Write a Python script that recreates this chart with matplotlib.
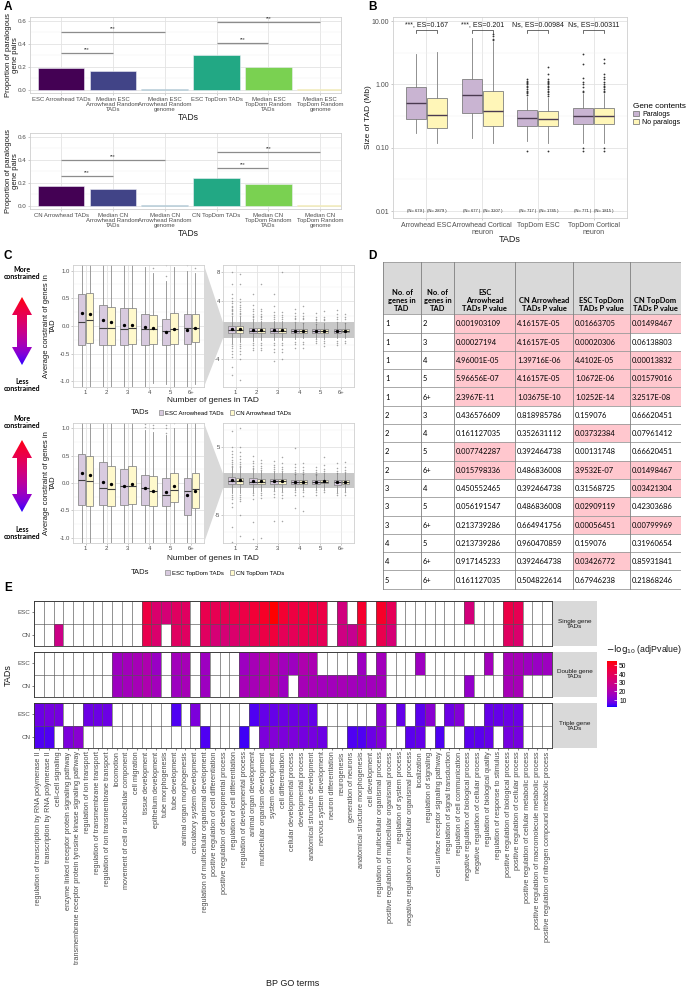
import numpy as np
import matplotlib
matplotlib.use('Agg')
import matplotlib.pyplot as plt
from matplotlib.patches import Polygon, Rectangle, Patch
from matplotlib.colors import ListedColormap, Normalize
from matplotlib.ticker import FixedLocator, NullFormatter
from matplotlib.cm import ScalarMappable

plt.rcParams['font.family'] = ['Liberation Sans', 'DejaVu Sans']
plt.rcParams['axes.unicode_minus'] = False

# ======================= DATA =======================
# Panel A
A_top_labels = ['ESC Arrowhead TADs', 'Median ESC\nArrowhead Random\nTADs', 'Median ESC\nArrowhead Random\ngenome',
                'ESC TopDom TADs', 'Median ESC\nTopDom Random\nTADs', 'Median ESC\nTopDom Random\ngenome']
A_top_values = [0.185, 0.160, 0.006, 0.305, 0.195, 0.005]
A_top_sig = [(0, 1, 0.32), (0, 2, 0.50), (3, 4, 0.41), (3, 5, 0.59)]
A_bot_labels = ['CN Arrowhead TADs', 'Median CN\nArrowhead Random\nTADs', 'Median CN\nArrowhead Random\ngenome',
                'CN TopDom TADs', 'Median CN\nTopDom Random\nTADs', 'Median CN\nTopDom Random\ngenome']
A_bot_values = [0.172, 0.147, 0.008, 0.245, 0.188, 0.005]
A_bot_sig = [(0, 1, 0.26), (0, 2, 0.40), (3, 4, 0.33), (3, 5, 0.47)]

# Panel B (lo, q1, med, q3, hi) in Mb
B_groups = ['Arrowhead ESC', 'Arrowhead Cortical\nneuron', 'TopDom ESC', 'TopDom Cortical\nneuron']
B_par_box = [(0.17, 0.285, 0.505, 0.90, 3.0), (0.145, 0.36, 0.68, 1.22, 5.5),
             (0.13, 0.22, 0.295, 0.39, 0.64), (0.12, 0.235, 0.315, 0.425, 0.70)]
B_nopar_box = [(0.12, 0.205, 0.33, 0.62, 3.3), (0.12, 0.22, 0.38, 0.78, 4.6),
               (0.12, 0.22, 0.285, 0.38, 0.62), (0.12, 0.24, 0.315, 0.42, 0.70)]
B_par_fliers = [[], [],
                [0.09, 0.68, 0.72, 0.76, 0.80, 0.85, 0.90, 0.95, 1.0, 1.05, 1.1, 1.15, 1.2],
                [0.09, 0.10, 0.75, 0.80, 0.90, 1.0, 1.1, 1.25, 2.1, 3.0]]
B_nopar_fliers = [[], [5.0, 5.3, 5.8, 6.2],
                  [0.09, 0.66, 0.70, 0.75, 0.80, 0.85, 0.90, 0.95, 1.0, 1.05, 1.1, 1.15, 1.2, 1.45, 1.9],
                  [0.09, 0.10, 0.75, 0.80, 0.85, 0.90, 0.95, 1.0, 1.1, 1.2, 1.3, 1.45, 2.2, 2.5]]
B_es_labels = ['***, ES=0.167', '***, ES=0.201', 'Ns, ES=0.00984', 'Ns, ES=0.00311']
B_n_par = ['(N= 679 )', '(N= 677 )', '(N= 717 )', '(N= 771 )']
B_n_nopar = ['(N= 2879 )', '(N= 3207 )', '(N= 1745 )', '(N= 1815 )']

# Panel C (lo, q1, med, q3, hi)
C_groups = ['1', '2', '3', '4', '5', '6+']
C_arrow_esc_box = [(-1.7, -0.34, 0.08, 0.58, 1.9), (-1.4, -0.35, -0.03, 0.38, 1.45), (-1.35, -0.35, -0.05, 0.32, 1.3),
                   (-1.17, -0.34, -0.06, 0.22, 1.06), (-1.04, -0.34, -0.09, 0.13, 0.82), (-1.1, -0.32, -0.03, 0.21, 1.0)]
C_arrow_cn_box = [(-1.6, -0.30, 0.10, 0.60, 1.9), (-1.35, -0.34, -0.04, 0.34, 1.35), (-1.27, -0.32, -0.04, 0.32, 1.27),
                  (-1.02, -0.32, -0.06, 0.19, 0.95), (-1.15, -0.32, -0.05, 0.24, 1.07), (-1.04, -0.29, -0.04, 0.21, 0.95)]
C_arrow_esc_mean = [0.23, 0.10, 0.02, -0.02, -0.11, -0.07]
C_arrow_cn_mean = [0.22, 0.07, 0.01, -0.04, -0.05, -0.04]
C_arrow_esc_fl = [[2.0, 2.2, 2.4, 2.6, 2.8, 3.0, 3.2, 3.4, 3.7, 4.0, 4.4, 5.0, 6.4, 8.0, -1.9, -2.1, -2.4, -2.8, -3.2, -3.6, -5.0, -6.2],
                  [1.6, 1.8, 2.0, 2.3, 2.6, 3.0, 3.5, 5.0, -1.7, -2.0, -2.4, -2.7],
                  [1.6, 1.8, 2.1, 2.5, 3.4, 5.0, -1.7, -2.0, -2.5, -3.0, -4.2],
                  [1.15, 1.5, 1.7, 2.0, 2.4, 3.0, -1.6, -1.9, -2.4],
                  [0.9, 1.1, 1.4, 1.6, 1.9, 2.4, -1.2, -1.5, -1.8],
                  [1.1, 1.5, 1.8, 2.3, 2.8, -1.5, -1.8, -2.0]]
C_arrow_cn_fl = [[2.0, 2.2, 2.4, 2.6, 2.9, 3.2, 3.5, 3.9, 4.3, 6.4, 7.8, -1.9, -2.1, -2.4, -2.8, -3.3, -4.0, -6.8],
                 [1.6, 1.8, 2.0, 2.3, 2.6, 3.0, 6.4, -1.7, -2.0, -2.4, -2.7],
                 [1.6, 1.8, 2.1, 2.5, 8.1, -1.7, -2.0, -2.5, -3.0, -4.0],
                 [1.05, 1.5, 1.7, 2.0, 2.4, 3.3, -1.6, -1.9, -2.4],
                 [1.4, 1.6, 1.9, 2.6, -1.5, -1.8, -2.1],
                 [1.05, 1.5, 1.8, 2.2, -1.5, -1.8]]
C_topdom_esc_box = [(-1.8, -0.40, 0.05, 0.53, 1.9), (-1.55, -0.40, -0.09, 0.38, 1.55), (-1.38, -0.40, -0.06, 0.26, 1.25),
                    (-1.2, -0.40, -0.09, 0.15, 0.97), (-1.2, -0.42, -0.22, 0.10, 0.88), (-1.6, -0.58, -0.15, 0.10, 1.1)]
C_topdom_cn_box = [(-1.8, -0.42, 0.03, 0.50, 1.88), (-1.5, -0.42, -0.11, 0.31, 1.4), (-1.4, -0.38, -0.05, 0.32, 1.35),
                   (-1.2, -0.42, -0.14, 0.12, 0.93), (-1.15, -0.35, -0.13, 0.19, 1.0), (-1.4, -0.46, -0.11, 0.19, 1.15)]
C_topdom_esc_mean = [0.18, 0.02, -0.06, -0.10, -0.17, -0.22]
C_topdom_cn_mean = [0.15, -0.01, -0.02, -0.14, -0.06, -0.15]
C_topdom_esc_fl = [[2.0, 2.2, 2.5, 2.8, 3.1, 3.5, 3.9, 4.4, 5.0, 7.4, -2.0, -2.3, -2.7, -3.2, -3.8, -6.7, -9.0],
                   [1.7, 1.9, 2.2, 2.6, 3.0, 3.6, -1.7, -2.0, -2.6, -6.0, -8.5],
                   [1.4, 1.7, 2.0, 2.4, 2.9, -1.5, -1.9, -2.4, -5.8],
                   [1.02, 1.08, 1.3, 1.6, 2.0, 2.5, 4.8, -1.3, -1.6, -2.0, -3.9],
                   [0.92, 1.0, 1.06, 1.3, 1.6, 2.0, -1.3, -1.6, -2.0],
                   [1.2, 1.5, 1.9, 2.6, -1.8, -2.1]]
C_topdom_cn_fl = [[2.0, 2.2, 2.5, 2.8, 3.2, 3.7, 4.3, 5.0, 7.7, -2.0, -2.3, -2.7, -3.0, -5.0, -8.0],
                  [1.6, 1.9, 2.2, 2.6, 3.1, -1.7, -2.0, -2.5, -8.3],
                  [1.5, 1.8, 2.1, 2.6, 3.5, -1.6, -2.0, -2.5, -5.8],
                  [1.0, 1.06, 1.3, 1.6, 2.0, 2.6, -1.3, -1.6, -2.2, -4.4],
                  [1.1, 1.4, 1.8, 2.4, 3.5, -1.3, -1.6],
                  [1.3, 1.6, 2.0, 2.8, -1.6, -2.0]]

# Panel D
D_header = ['No. of\ngenes in\nTAD', 'No. of\ngenes in\nTAD', 'ESC\nArrowhead\nTADs P value',
            'CN Arrowhead\nTADs P value', 'ESC TopDom\nTADs P value', 'CN TopDom\nTADs P value']
D_col1 = ['1', '1', '1', '1', '1', '2', '2', '2', '2', '3', '3', '3', '4', '4', '5']
D_col2 = ['2', '3', '4', '5', '6+', '3', '4', '5', '6+', '4', '5', '6+', '5', '6+', '6+']
D_esc_arrow = ['0.001903109', '0.00027194', '4.96001E-05', '5.96656E-07', '2.3967E-11', '0.436576609', '0.161127035',
               '0.007742287', '0.015798336', '0.450552465', '0.056191547', '0.213739286', '0.213739286', '0.917145233', '0.161127035']
D_cn_arrow = ['4.16157E-05', '4.16157E-05', '1.39716E-06', '4.16157E-05', '1.03675E-10', '0.818985786', '0.352631112',
              '0.392464738', '0.486836008', '0.392464738', '0.486836008', '0.664941756', '0.960470859', '0.392464738', '0.504822614']
D_esc_topdom = ['0.01663705', '0.00020306', '4.4102E-05', '1.0672E-06', '1.0252E-14', '0.159076', '0.03732384',
                '0.00131748', '3.9532E-07', '0.31568725', '0.02909119', '0.00056451', '0.159076', '0.03426772', '0.67946238']
D_cn_topdom = ['0.01498467', '0.06138803', '0.00013832', '0.01579016', '3.2517E-08', '0.66620451', '0.07961412',
               '0.66620451', '0.01498467', '0.03421304', '0.42303686', '0.00799969', '0.31960654', '0.85931841', '0.21868246']
D_highlight = ['1111', '1110', '1111', '1111', '1111', '0000', '0010', '1000', '1011', '0001', '0010', '0011', '0000', '0010', '0000']

# Panel E
E_terms = ['regulation of transcription by RNA polymerase II', 'transcription by RNA polymerase II', 'cell-cell signaling',
           'enzyme linked receptor protein signaling pathway', 'transmembrane receptor protein tyrosine kinase signaling pathway',
           'regulation of ion transport', 'regulation of transmembrane transport', 'regulation of ion transmembrane transport',
           'locomotion', 'movement of cell or subcellular component', 'cell migration', 'tissue development',
           'epithelium development', 'tube morphogenesis', 'tube development', 'animal organ morphogenesis',
           'circulatory system development', 'regulation of multicellular organismal development',
           'positive regulation of cell differentiation', 'positive regulation of developmental process',
           'regulation of cell differentiation', 'regulation of developmental process', 'animal organ development',
           'multicellular organism development', 'system development', 'cell differentiation',
           'cellular developmental process', 'developmental process', 'anatomical structure development',
           'nervous system development', 'neuron differentiation', 'neurogenesis', 'generation of neurons',
           'anatomical structure morphogenesis', 'cell development', 'regulation of multicellular organismal process',
           'positive regulation of multicellular organismal process', 'regulation of system process',
           'negative regulation of multicellular organismal process', 'localization', 'regulation of signaling',
           'cell surface receptor signaling pathway', 'regulation of signal transduction', 'regulation of cell communication',
           'negative regulation of biological process', 'negative regulation of cellular process',
           'regulation of biological quality', 'regulation of response to stimulus', 'positive regulation of biological process',
           'positive regulation of cellular process', 'positive regulation of cellular metabolic process',
           'positive regulation of macromolecule metabolic process', 'positive regulation of nitrogen compound metabolic process']
E_facets = ['Single gene\nTADs', 'Double gene\nTADs', 'Triple gene\nTADs']
# column number (1-based) -> -log10(adjPvalue)
E_single_esc = {12: 45, 13: 35, 14: 33, 15: 38, 16: 38, 18: 42, 19: 41, 20: 41, 21: 43, 22: 44, 23: 47, 24: 50, 25: 55,
                26: 48, 27: 45, 28: 46, 29: 46, 30: 44, 32: 31, 34: 49, 36: 50, 37: 40, 45: 32, 49: 44, 50: 41}
E_single_cn = {3: 29, 12: 42, 13: 35, 15: 38, 16: 38, 18: 38, 19: 33, 20: 33, 21: 35, 22: 38, 23: 40, 24: 44, 25: 46,
               26: 40, 27: 40, 28: 42, 29: 41, 30: 40, 32: 30, 33: 27, 34: 40, 36: 42, 37: 33, 49: 38, 50: 35}
E_double_esc = {9: 16, 10: 17, 11: 18, 12: 20, 13: 15, 15: 17, 16: 18, 18: 16, 22: 16, 23: 18, 24: 20, 25: 22, 26: 17,
                27: 16, 28: 20, 29: 19, 34: 16, 36: 17, 40: 16, 47: 17, 49: 18, 50: 18, 51: 16, 52: 15, 53: 16}
E_double_cn = {9: 16, 10: 17, 11: 18, 12: 20, 13: 17, 15: 16, 16: 18, 18: 16, 22: 18, 23: 18, 24: 20, 25: 22, 26: 16,
               28: 18, 29: 18, 30: 17, 31: 17, 32: 18, 33: 17, 34: 16, 35: 17, 36: 17, 45: 14, 49: 18, 50: 18}
E_triple_esc = {1: 8, 2: 9, 3: 9, 6: 8, 7: 8, 8: 8, 15: 5, 17: 10, 23: 5, 24: 7, 25: 7, 26: 8, 27: 8, 28: 8, 29: 7,
                36: 12, 38: 7, 40: 6, 41: 12, 43: 8, 44: 11, 47: 7, 48: 7, 49: 8, 50: 8}
E_triple_cn = {1: 5, 2: 5, 4: 10, 5: 12, 18: 5, 22: 4, 24: 10, 25: 11, 26: 10, 27: 10, 28: 9, 29: 9, 30: 8, 33: 5,
               34: 5, 35: 8, 36: 11, 39: 6, 40: 7, 42: 5, 45: 6, 46: 6, 47: 7, 49: 9, 50: 9}

# ======================= FIGURE =======================
W, H = 689, 992
fig = plt.figure(figsize=(W / 100, H / 100), dpi=100)
fig.patch.set_facecolor('white')


def add_ax(x0, y0, x1, y1):
    return fig.add_axes([x0 / W, 1 - y1 / H, (x1 - x0) / W, (y1 - y0) / H])


def ftext(x, y, s, **kw):
    return fig.text(x / W, 1 - y / H, s, **kw)


def gg_style(ax, ls=4.5, pad=1.2):
    ax.set_facecolor('white')
    ax.set_axisbelow(True)
    ax.grid(True, which='major', color='#E3E3E3', lw=0.6)
    ax.grid(True, which='minor', color='#F1F1F1', lw=0.35)
    for s in ax.spines.values():
        s.set_color('#CFCFCF')
        s.set_linewidth(0.6)
    ax.tick_params(which='major', length=1.5, width=0.5, color='#B3B3B3', labelsize=ls,
                   labelcolor='#4D4D4D', pad=pad)
    ax.tick_params(which='minor', length=0)


# --- Lab interpolated blue -> red colour scale (ggplot style) ---
_M = np.array([[0.4124564, 0.3575761, 0.1804375], [0.2126729, 0.7151522, 0.0721750], [0.0193339, 0.1191920, 0.9503041]])
_WP = np.array([0.95047, 1.0, 1.08883])


def srgb2lab(rgb):
    rgb = np.asarray(rgb, float)
    lin = np.where(rgb <= 0.04045, rgb / 12.92, ((rgb + 0.055) / 1.055) ** 2.4)
    t = (_M @ lin) / _WP
    d = 6 / 29
    f = np.where(t > d ** 3, np.cbrt(t), t / (3 * d * d) + 4 / 29)
    return np.array([116 * f[1] - 16, 500 * (f[0] - f[1]), 200 * (f[1] - f[2])])


def lab2srgb(lab):
    L, a, b = lab
    fy = (L + 16) / 116
    fx = fy + a / 500
    fz = fy - b / 200
    d = 6 / 29
    finv = lambda f: np.where(f > d, f ** 3, 3 * d * d * (f - 4 / 29))
    xyz = np.array([finv(fx), finv(fy), finv(fz)]) * _WP
    lin = np.clip(np.linalg.inv(_M) @ xyz, 0, 1)
    return np.clip(np.where(lin <= 0.0031308, 12.92 * lin, 1.055 * lin ** (1 / 2.4) - 0.055), 0, 1)


lab_lo, lab_hi = srgb2lab([0, 0, 1]), srgb2lab([1, 0, 0])
cmapE = ListedColormap([lab2srgb(lab_lo + (lab_hi - lab_lo) * t) for t in np.linspace(0, 1, 256)])
normE = Normalize(vmin=2, vmax=55)

# ======================= PANEL A =======================
viridis6 = ['#440154', '#414487', '#2A788E', '#22A884', '#7AD151', '#FDE725']


def draw_A(y0, y1, labels, vals, sigs, xl_y, yl_y):
    ax = add_ax(30, y0, 341, y1)
    gg_style(ax, 4.5)
    x = np.arange(len(vals))
    ax.bar(x, vals, width=0.9, color=viridis6, edgecolor='#EEEEF6', linewidth=0.4, zorder=2)
    ax.set_xlim(-0.6, 5.4)
    ax.set_ylim(-0.03, 0.635)
    ax.set_yticks([0, 0.2, 0.4, 0.6])
    ax.set_yticklabels(['0.0', '0.2', '0.4', '0.6'])
    ax.yaxis.set_minor_locator(FixedLocator([0.1, 0.3, 0.5]))
    ax.set_xticks(x)
    ax.set_xticklabels(labels, fontsize=4.3, linespacing=1.05)
    for a, b, h in sigs:
        ax.plot([a, b], [h, h], color='#8C8C8C', lw=0.9, zorder=3, solid_capstyle='butt')
        ax.text((a + b) / 2, h + 0.008, '***', ha='center', va='bottom', fontsize=3.5, color='#333333')
    ftext(188, xl_y, 'TADs', ha='center', va='center', fontsize=6.2, color='#1A1A1A')
    ftext(12, yl_y, 'Proportion of paralogous\ngene pairs', rotation=90, ha='center', va='center',
          fontsize=5.5, color='#1A1A1A', linespacing=1.0)


draw_A(17, 93, A_top_labels, A_top_values, A_top_sig, 117, 55)
draw_A(133, 209, A_bot_labels, A_bot_values, A_bot_sig, 234, 171)

# ======================= PANEL B =======================
axB = add_ax(393, 17, 627, 218)
gg_style(axB, 5)
axB.set_yscale('log')
par_fc, nopar_fc = '#C9B4D2', '#FFF6B8'
box_kw = dict(widths=0.36, patch_artist=True, showcaps=False,
              whiskerprops=dict(color='#7F7F7F', lw=0.6),
              medianprops=dict(color='#4A3A50', lw=1.0),
              flierprops=dict(marker='o', ms=1.3, mfc='#333333', mec='none'))
pos = np.arange(1, 5)
for boxes, fl, off, fc in ((B_par_box, B_par_fliers, -0.19, par_fc), (B_nopar_box, B_nopar_fliers, 0.19, nopar_fc)):
    st = [dict(whislo=b[0], q1=b[1], med=b[2], q3=b[3], whishi=b[4], fliers=f) for b, f in zip(boxes, fl)]
    axB.bxp(st, positions=pos + off, boxprops=dict(facecolor=fc, edgecolor='#7F7F7F', lw=0.6), **box_kw)
axB.set_xlim(0.4, 4.6)
axB.set_ylim(0.0078, 11.6)
axB.set_yticks([0.01, 0.1, 1, 10])
axB.set_yticklabels(['0.01', '0.10', '1.00', '10.00'])
axB.yaxis.set_minor_locator(FixedLocator([10 ** -1.5, 10 ** -0.5, 10 ** 0.5]))
axB.yaxis.set_minor_formatter(NullFormatter())
axB.set_xticks(pos)
axB.set_xticklabels(B_groups, fontsize=5, linespacing=1.0)
for i in range(4):
    x = pos[i]
    axB.plot([x - 0.19, x - 0.19, x + 0.19, x + 0.19], [6.5, 7.3, 7.3, 6.5], color='#333333', lw=0.5)
    axB.text(x, 8.7, B_es_labels[i], ha='center', va='center', fontsize=5, color='#1A1A1A')
    axB.text(x - 0.19, 0.01, B_n_par[i], ha='center', va='center', fontsize=3.0, color='#1A1A1A')
    axB.text(x + 0.19, 0.01, B_n_nopar[i], ha='center', va='center', fontsize=3.0, color='#1A1A1A')
ftext(368, 117, 'Size of TAD (Mb)', rotation=90, ha='center', va='center', fontsize=6, color='#1A1A1A')
ftext(510, 239, 'TADs', ha='center', va='center', fontsize=6.5, color='#1A1A1A')
fig.legend(handles=[Patch(fc=par_fc, ec='#7F7F7F', lw=0.6), Patch(fc=nopar_fc, ec='#7F7F7F', lw=0.6)],
           labels=['Paralogs', 'No paralogs'], loc='upper left', bbox_to_anchor=(633 / W, 1 - 103 / H),
           frameon=False, fontsize=5, title='Gene contents', title_fontsize=5.9, handlelength=0.9,
           handleheight=0.8, handletextpad=0.4, labelspacing=0.15, borderaxespad=0, borderpad=0,
           alignment='left')

# ======================= PANEL C =======================
esc_fc, cn_fc = '#D8CADF', '#FFF9CC'


def draw_arrow(top, hb1, hb2, bot):
    ax = add_ax(8, top - 2, 36, bot + 2)
    ax.axis('off')
    pts = [(22, top), (32, hb1), (27, hb1), (27, hb2), (32, hb2), (22, bot), (12, hb2), (17, hb2), (17, hb1), (12, hb1)]
    poly = Polygon(pts, closed=True, fc='none', ec='none')
    ax.add_patch(poly)
    grad = np.linspace(1, 0, 256).reshape(-1, 1)
    im = ax.imshow(grad, cmap=cmapE, aspect='auto', extent=(8, 36, bot, top), origin='upper')
    im.set_clip_path(poly)
    ax.set_xlim(8, 36)
    ax.set_ylim(bot + 2, top - 2)


def draw_C(yt, yb, ylimR, yticksR, yminorR, esc_box, esc_mean, esc_fl, cn_box, cn_mean, cn_fl, leg_labels,
           leg_y, xl_y, arrow, more_y, less_y):
    axL = add_ax(73, yt, 204, yb)
    axR = add_ax(223, yt, 354, yb)
    p = np.arange(1, 7)
    for ax in (axL, axR):
        gg_style(ax, 4.3, pad=0.8)
        for boxes, means, fl, off, fc in ((esc_box, esc_mean, esc_fl, -0.19, esc_fc), (cn_box, cn_mean, cn_fl, 0.19, cn_fc)):
            st = [dict(whislo=b[0], q1=b[1], med=b[2], q3=b[3], whishi=b[4], fliers=f) for b, f in zip(boxes, fl)]
            ax.bxp(st, positions=p + off, widths=0.36, patch_artist=True, showcaps=False,
                   boxprops=dict(facecolor=fc, edgecolor='#8C8C8C', lw=0.6),
                   whiskerprops=dict(color='#8C8C8C', lw=0.6),
                   medianprops=dict(color='#3F3F3F', lw=0.8),
                   flierprops=dict(marker='o', ms=1.1, mfc='#7F7F7F', mec='none', alpha=0.7))
            ax.plot(p + off, means, 'o', ms=1.4, color='black', zorder=5)
        ax.set_xlim(0.4, 6.6)
        ax.set_xticks(p)
        ax.set_xticklabels(C_groups)
    axL.set_ylim(-1.1, 1.1)
    axL.set_yticks([-1, -0.5, 0, 0.5, 1])
    axL.set_yticklabels(['-1.0', '-0.5', '0.0', '0.5', '1.0'])
    axL.yaxis.set_minor_locator(FixedLocator([-0.75, -0.25, 0.25, 0.75]))
    axR.set_ylim(*ylimR)
    axR.set_yticks(yticksR)
    axR.yaxis.set_minor_locator(FixedLocator(yminorR))
    axR.axhspan(-1.1, 1.1, color='#C8C8C8', zorder=0.8, lw=0)
    # connector from zoomed panel to band
    inv = fig.transFigure.inverted()
    p_hi = inv.transform(axR.transData.transform((0.4, 1.1)))
    p_lo = inv.transform(axR.transData.transform((0.4, -1.1)))
    x0 = 204 / W
    conn = Polygon([(x0, 1 - yt / H), (p_hi[0], p_hi[1]), (p_lo[0], p_lo[1]), (x0, 1 - yb / H)],
                   closed=True, fc='#D9D9D9', ec='none', transform=fig.transFigure)
    fig.add_artist(conn)
    ftext(50, (yt + yb) / 2, 'Average constraint of genes in\nTAD', rotation=90, ha='center', va='center',
          fontsize=5.5, color='#1A1A1A', linespacing=1.0)
    ftext(213, xl_y, 'Number of genes in TAD', ha='center', va='center', fontsize=6, color='#1A1A1A')
    ftext(140, leg_y, 'TADs', ha='center', va='center', fontsize=5.5, color='#1A1A1A')
    fig.legend(handles=[Patch(fc=esc_fc, ec='#8C8C8C', lw=0.5), Patch(fc=cn_fc, ec='#8C8C8C', lw=0.5)],
               labels=leg_labels, loc='center', bbox_to_anchor=(225 / W, 1 - leg_y / H), ncol=2,
               frameon=False, fontsize=4.3, handlelength=0.7, handleheight=0.7, handletextpad=0.4,
               columnspacing=1.0, borderaxespad=0, borderpad=0)
    draw_arrow(*arrow)
    ftext(22, more_y, 'More\nconstrained', ha='center', va='center', fontsize=5, fontweight='bold',
          family=['Lato', 'DejaVu Sans'], linespacing=1.05)
    ftext(22, less_y, 'Less\nconstrained', ha='center', va='center', fontsize=5, fontweight='bold',
          family=['Lato', 'DejaVu Sans'], linespacing=1.05)


draw_C(265, 387, (-7.8, 9.0), [-4, 0, 4, 8], [-6, -2, 2, 6],
       C_arrow_esc_box, C_arrow_esc_mean, C_arrow_esc_fl, C_arrow_cn_box, C_arrow_cn_mean, C_arrow_cn_fl,
       ['ESC Arrowhead TADs', 'CN Arrowhead TADs'], 413, 400, (297, 315, 347, 365), 273, 385)
draw_C(423, 543, (-9.1, 8.5), [-5, 0, 5], [-7.5, -2.5, 2.5, 7.5],
       C_topdom_esc_box, C_topdom_esc_mean, C_topdom_esc_fl, C_topdom_cn_box, C_topdom_cn_mean, C_topdom_cn_fl,
       ['ESC TopDom TADs', 'CN TopDom TADs'], 573, 558, (440, 458, 494, 512), 422, 533)

# ======================= PANEL D =======================
axD = add_ax(383, 262, 681, 590)
axD.axis('off')
axD.set_xlim(383, 681)
axD.set_ylim(590, 262)
cols = [383, 421, 454, 515, 573, 630, 681]
top, hdr_bot, rh = 262, 314.2, 18.3
nrows = len(D_col1)
for i in range(6):
    axD.add_patch(Rectangle((cols[i], top), cols[i + 1] - cols[i], hdr_bot - top, fc='#D9D9D9', ec='none'))
    axD.text((cols[i] + cols[i + 1]) / 2, hdr_bot - 2.5, D_header[i], ha='center', va='bottom', fontsize=5.4,
             fontweight='bold', family=['Lato', 'DejaVu Sans'], linespacing=1.15)
table_cols = [D_col1, D_col2, D_esc_arrow, D_cn_arrow, D_esc_topdom, D_cn_topdom]
for r in range(nrows):
    y0 = hdr_bot + r * rh
    for j in range(4):
        if D_highlight[r][j] == '1':
            axD.add_patch(Rectangle((cols[j + 2], y0), cols[j + 3] - cols[j + 2], rh, fc='#FFC7CE', ec='none'))
    for c in range(6):
        axD.text(cols[c] + 2, y0 + rh / 2 + 0.5, table_cols[c][r], ha='left', va='center', fontsize=5.4,
                 family=['Lato', 'DejaVu Sans'])
ybot = hdr_bot + nrows * rh
for r in range(nrows + 1):
    axD.plot([cols[0], cols[-1]], [hdr_bot + r * rh] * 2, color='#9A9A9A', lw=0.6)
axD.plot([cols[0], cols[-1]], [top, top], color='#9A9A9A', lw=0.6)
for xc in cols:
    axD.plot([xc, xc], [top, ybot], color='#7F7F7F', lw=0.6)

# ======================= PANEL E =======================
facet_rows = [(E_single_esc, E_single_cn, 601, 646), (E_double_esc, E_double_cn, 652, 697),
              (E_triple_esc, E_triple_cn, 703, 748)]
nT = len(E_terms)
for k, (esc_d, cn_d, y0, y1) in enumerate(facet_rows):
    ax = add_ax(34, y0, 552, y1)
    Mx = np.full((2, nT), np.nan)
    for c, v in cn_d.items():
        Mx[0, c - 1] = v
    for c, v in esc_d.items():
        Mx[1, c - 1] = v
    ax.pcolormesh(np.arange(nT + 1), np.arange(3), np.ma.masked_invalid(Mx), cmap=cmapE, norm=normE,
                  edgecolors='none')
    ax.vlines(np.arange(nT + 1), 0, 2, color='#555555', lw=0.45)
    ax.hlines([0, 1, 2], 0, nT, color='#555555', lw=0.45)
    ax.set_xlim(0, nT)
    ax.set_ylim(0, 2)
    ax.set_yticks([0.5, 1.5])
    ax.set_yticklabels(['CN', 'ESC'], fontsize=4.5, color='#4D4D4D')
    ax.tick_params(axis='y', length=1.5, width=0.5, color='#4D4D4D', pad=1)
    if k == 2:
        ax.set_xticks(np.arange(nT) + 0.5)
        ax.set_xticklabels(E_terms, rotation=90, fontsize=5.2, color='#4D4D4D')
        ax.tick_params(axis='x', length=1.5, width=0.5, color='#4D4D4D', pad=1)
    else:
        ax.set_xticks([])
    for s in ax.spines.values():
        s.set_color('#333333')
        s.set_linewidth(0.6)
    sax = add_ax(553, y0, 597, y1)
    sax.set_facecolor('#D9D9D9')
    sax.set_xticks([])
    sax.set_yticks([])
    for s in sax.spines.values():
        s.set_visible(False)
    sax.text(0.5, 0.5, E_facets[k], ha='center', va='center', fontsize=4.6, color='#1A1A1A',
             transform=sax.transAxes, linespacing=1.0)

ftext(8, 675, 'TADs', rotation=90, ha='center', va='center', fontsize=6.5, color='#1A1A1A')
ftext(293, 984, 'BP GO terms', ha='center', va='center', fontsize=6.5, color='#1A1A1A')
ftext(606, 650, r'$-\log_{10}$(adjPvalue)', ha='left', va='center', fontsize=6.3, color='#1A1A1A')
cax = add_ax(607, 661, 617, 707)
cb = fig.colorbar(ScalarMappable(norm=normE, cmap=cmapE), cax=cax, ticks=[10, 20, 30, 40, 50])
cb.outline.set_visible(False)
cax.tick_params(labelsize=4.8, length=2, width=0.5, color='white', direction='in', pad=1.5)

# ======================= PANEL LABELS =======================
for lab, x, y in (('A', 8, 7), ('B', 372, 7), ('C', 8, 256), ('D', 372, 256), ('E', 8, 588)):
    ftext(x, y, lab, ha='center', va='center', fontsize=8.5, fontweight='bold', color='black')

fig.savefig('out.png', dpi=100, facecolor='white')
